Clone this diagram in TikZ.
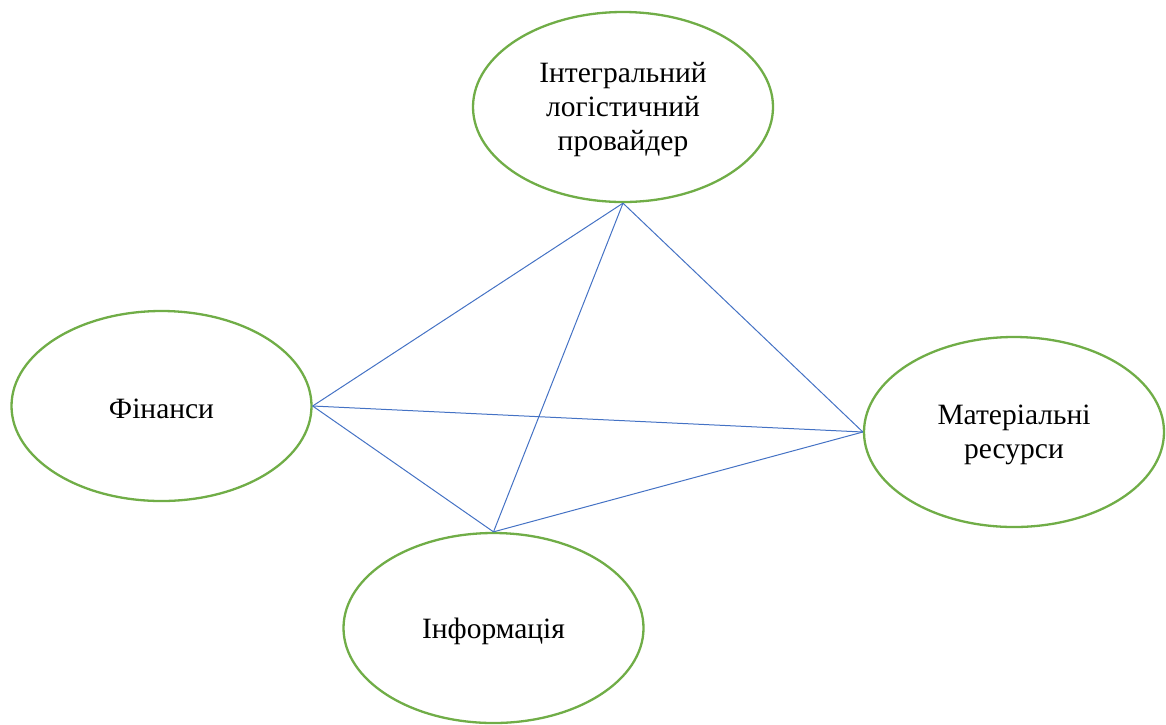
\documentclass[tikz,border=0pt]{standalone}
\usepackage{fontspec}
\setmainfont{Liberation Serif}
\usetikzlibrary{shapes.geometric}
\definecolor{ogreen}{HTML}{70AD47}
\definecolor{oblue}{HTML}{4472C4}
\begin{document}
\begin{tikzpicture}[x=1pt,y=-1pt,
  oval/.style={ellipse, draw=ogreen, line width=2.3pt, inner sep=0pt,
    minimum width=300pt, minimum height=190pt},
  txt/.style={align=center, inner sep=0pt, yshift=-3pt,
    font=\fontsize{29.5}{34}\selectfont},
  link/.style={draw=oblue, line width=1pt}]
\useasboundingbox (0,0) rectangle (1166,724);
\node[oval, label={[txt]center:Інтегральний\\логістичний\\провайдер}] (top) at (623,107) {};
\node[oval, label={[txt]center:Фінанси}] (fin) at (161.5,406) {};
\node[oval, label={[txt]center:Матеріальні\\ресурси}] (mat) at (1014,432) {};
\node[oval, label={[txt]center:Інформація}] (inf) at (493.5,628) {};
\draw[link] (top.south) -- (fin.east);
\draw[link] (top.south) -- (inf.north);
\draw[link] (top.south) -- (mat.west);
\draw[link] (fin.east) -- (mat.west);
\draw[link] (fin.east) -- (inf.north);
\draw[link] (inf.north) -- (mat.west);
\end{tikzpicture}
\end{document}
